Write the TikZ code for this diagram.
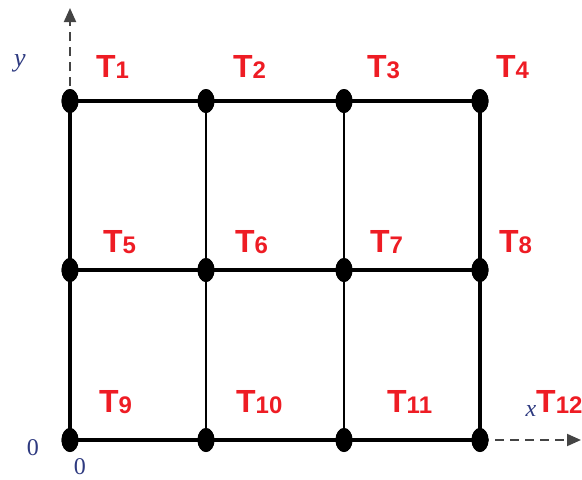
\documentclass[tikz,border=0pt]{standalone}
\usepackage{fontspec}
\setmainfont{Liberation Serif}
\setsansfont{Liberation Sans}
\usetikzlibrary{shapes.geometric,arrows.meta}
\definecolor{tred}{HTML}{EE1C24}
\definecolor{axisblue}{HTML}{2E3A80}
\definecolor{axisgray}{HTML}{444444}
\newcommand{\tlab}[1]{T\raisebox{-1.5pt}{\fontsize{24}{24}\selectfont #1}}
\tikzset{
  dot/.style={ellipse, fill=black, draw=none, minimum width=17pt, minimum height=24pt, inner sep=0pt},
  edge/.style={line width=3.2pt, black},
  inner/.style={line width=2.4pt, black},
  tagtext/.style={anchor=base west, inner sep=0pt, text=tred,
    font=\sffamily\bfseries\fontsize{32}{32}\selectfont},
  axis/.style={axisgray, line width=2pt, dash pattern=on 9pt off 6pt,
    -{Triangle[length=14pt,width=12pt]}},
  axlab/.style={inner sep=0pt, text=axisblue}
}
\begin{document}
\begin{tikzpicture}[x=1pt,y=-1pt]
\useasboundingbox (0,0) rectangle (582,480);
% grid points
\foreach \c/\x in {1/70,2/206,3/344,4/480}{
  \node[dot] (p1\c) at (\x,101) {};
  \node[dot] (p2\c) at (\x,270) {};
  \node[dot] (p3\c) at (\x,440) {};
}
% axis tips
\coordinate (ytip) at (70,8);
\coordinate (xtip) at (581,440);
\draw[axis] (p11.center) -- (ytip);
\draw[axis] (p34.center) -- (xtip);
% horizontal members
\foreach \r in {1,2,3}{
  \draw[edge] (p\r1.center) -- (p\r2.center) -- (p\r3.center) -- (p\r4.center);
}
% vertical members
\draw[edge] (p11.center) -- (p21.center) -- (p31.center);
\draw[edge] (p14.center) -- (p24.center) -- (p34.center);
\draw[inner] (p12.center) -- (p22.center) -- (p32.center);
\draw[inner] (p13.center) -- (p23.center) -- (p33.center);
% redraw dots on top
\foreach \r in {1,2,3}{\foreach \c in {1,2,3,4}{
  \fill (p\r\c) ellipse (8.5pt and 12pt);
}}
% labels
\node[tagtext] (t1)  at (96,77)   {\tlab{1}};
\node[tagtext] (t2)  at (233,77)  {\tlab{2}};
\node[tagtext] (t3)  at (367,77)  {\tlab{3}};
\node[tagtext] (t4)  at (496,77)  {\tlab{4}};
\node[tagtext] (t5)  at (103,252) {\tlab{5}};
\node[tagtext] (t6)  at (235,252) {\tlab{6}};
\node[tagtext] (t7)  at (370,252) {\tlab{7}};
\node[tagtext] (t8)  at (499,252) {\tlab{8}};
\node[tagtext] (t9)  at (99,412)  {\tlab{9}};
\node[tagtext] (t10) at (236,412) {\tlab{10}};
\node[tagtext] (t11) at (387,412) {\tlab{11}};
\node[tagtext] (t12) at (536,412) {\tlab{12}};
% axis labels
\node[axlab, font=\itshape\fontsize{26}{26}\selectfont] (ylab) at (20,63) {y};
\node[axlab, font=\itshape\fontsize{24}{24}\selectfont] (xlab) at (531,411) {x};
\node[axlab, font=\fontsize{24}{24}\selectfont] (o1) at (33,448) {0};
\node[axlab, font=\fontsize{24}{24}\selectfont] (o2) at (80,467) {0};
\end{tikzpicture}
\end{document}
